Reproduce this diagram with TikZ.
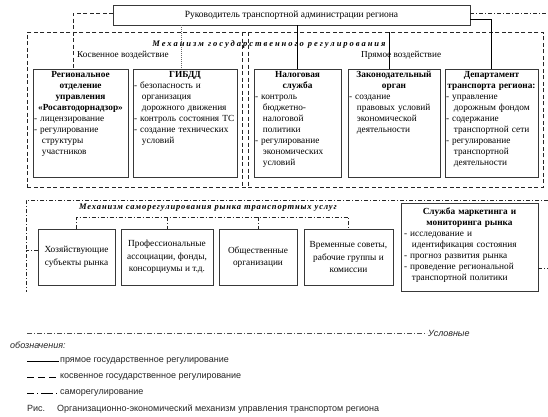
\documentclass[tikz,border=0pt]{standalone}
\usepackage{fontspec}
\setmainfont{Liberation Serif}
\newfontfamily\sansf{Liberation Sans}
\usetikzlibrary{calc}
\setlength\parindent{0pt}
\newcommand\itm{\par\hangindent=0.85em\hangafter=1 -\ }
\tikzset{
  box/.style={draw=black!78, line width=0.8pt, fill=white, inner sep=0pt, outer sep=0pt},
  boxtxt/.style={anchor=north, inner sep=0pt, align=left, font=\fontsize{9.3}{11}\selectfont},
  ctxt/.style={align=center, inner sep=0pt, font=\fontsize{9.3}{12.5}\selectfont},
  govdash/.style={draw=black!85, line width=0.9pt, dash pattern=on 4pt off 2.5pt},
  dd/.style={draw=black!85, line width=0.8pt, dash pattern=on 4pt off 2pt on 1pt off 2pt},
  dotl/.style={draw=black!60, line width=0.5pt, dash pattern=on 1pt off 1pt},
  solidl/.style={draw=black, line width=0.8pt},
  legt/.style={anchor=base west, inner sep=0pt, font=\sansf\fontsize{9}{10}\selectfont, text=black!85},
  ttl/.style={inner sep=0pt, font=\fontsize{8.5}{10}\selectfont\bfseries\itshape},
  lbl/.style={anchor=west, inner sep=0pt, font=\fontsize{9.2}{10}\selectfont}
}
\begin{document}
\begin{tikzpicture}[x=1pt,y=-1pt]
\useasboundingbox (0,0) rectangle (548,416);
\fill[white] (0,0) rectangle (548,416);

% government mechanism frame
\node[govdash, anchor=north west, minimum width=516pt, minimum height=155pt, inner sep=0pt] (gov) at (27,32) {};
\coordinate (sepA) at (242,32);
\coordinate (sepB) at (248,32);
\draw[govdash] (sepA) -- (sepA |- gov.south);
\draw[govdash] (sepB) -- (sepB |- gov.south);

% top box
\node[box, anchor=north west, minimum width=357pt, minimum height=20pt] (top) at (113,5) {};
\node[ctxt, font=\fontsize{9.5}{12}\selectfont] (toptxt) at (top.center) {Руководитель транспортной администрации региона};

\node[ttl] (govttl) at (269,44) {\addfontfeature{LetterSpace=23}Механизм государственного регулирования};
\node[lbl] (kos) at (77,55) {Косвенное воздействие};
\node[lbl] (pry) at (361,55) {Прямое воздействие};

% row 1 boxes
\node[box, anchor=north west, minimum width=95pt, minimum height=108pt] (reg) at (33,69) {};
\node[box, anchor=north west, minimum width=104pt, minimum height=108pt] (gib) at (133,69) {};
\node[box, anchor=north west, minimum width=87pt, minimum height=108pt] (nal) at (254,69) {};
\node[box, anchor=north west, minimum width=92pt, minimum height=108pt] (zak) at (348,69) {};
\node[box, anchor=north west, minimum width=93pt, minimum height=108pt] (dep) at (445,69) {};

\node[boxtxt, text width=93pt] (regt) at ([yshift=-2pt]reg.north) {{\centering\bfseries Региональное\\отделение\\управления\\«Росавтодорнадзор»\par}\itm лицензирование\itm регулирование\newline структуры\newline участников\par};
\node[boxtxt, text width=102pt] (gibt) at ([yshift=-2pt]gib.north) {{\centering\bfseries ГИБДД\par}\itm безопасность и\newline организация\newline дорожного движения\itm контроль состояния ТС\itm создание технических\newline условий\par};
\node[boxtxt, text width=85pt] (nalt) at ([yshift=-2pt]nal.north) {{\centering\bfseries Налоговая\\служба\par}\itm контроль\newline бюджетно-\newline налоговой\newline политики\itm регулирование\newline экономических\newline условий\par};
\node[boxtxt, text width=90pt] (zakt) at ([yshift=-2pt]zak.north) {{\centering\bfseries Законодательный\\орган\par}\itm создание\newline правовых условий\newline экономической\newline деятельности\par};
\node[boxtxt, text width=91pt] (dept) at ([yshift=-2pt]dep.north) {{\centering\bfseries Департамент\\транспорта региона:\par}\itm управление\newline дорожным фондом\itm содержание\newline транспортной сети\itm регулирование\newline транспортной\newline деятельности\par};

% connectors from the head
\draw[govdash] ([yshift=2pt]top.west) -| ([xshift=-7.5pt]reg.north);
\draw[dotl] ([xshift=-4pt]top.south -| gib.north) -- ([xshift=-4pt]gib.north);
\draw[solidl] (top.south -| nal.north) -- (nal.north);
\draw[solidl] ([xshift=-5pt]zak.north |- gov.north) -- ([xshift=-5pt]zak.north);
\draw[solidl] ([yshift=-4pt]top.east) -| (dep.north);
\coordinate (rtop) at (548,13);
\draw[dd] ([yshift=2pt]top.east) -- (rtop);

% self-regulation mechanism
\coordinate (srTR) at (548,200);
\coordinate (srTL) at (26,200);
\coordinate (srBL) at (26,292);
\draw[dd] (srTR) -- (srTL) -- (srBL);
\node[ttl, anchor=west] (srttl) at (79,208) {\addfontfeature{LetterSpace=10}Механизм саморегулирования рынка транспортных услуг};

\node[box, anchor=north west, minimum width=77pt, minimum height=56pt] (hoz) at (38,229) {};
\node[box, anchor=north west, minimum width=92pt, minimum height=56pt] (prof) at (121,229) {};
\node[box, anchor=north west, minimum width=78pt, minimum height=56pt] (obs) at (219,229) {};
\node[box, anchor=north west, minimum width=89pt, minimum height=56pt] (vre) at (304,229) {};
\node[box, anchor=north west, minimum width=137pt, minimum height=88pt] (mar) at (401,203) {};

\node[ctxt] (hozt) at (hoz.center) {Хозяйствующие\\субъекты рынка};
\node[ctxt] (proft) at (prof.center) {Профессиональные\\ассоциации, фонды,\\консорциумы и т.д.};
\node[ctxt] (obst) at (obs.center) {Общественные\\организации};
\node[ctxt] (vret) at (vre.center) {Временные советы,\\рабочие группы и\\комиссии};
\node[boxtxt, text width=131pt] (mart) at ([yshift=-5pt]mar.north) {{\centering\bfseries Служба маркетинга и\\мониторинга рынка\par}\itm исследование и\newline идентификация состояния\itm прогноз развития рынка\itm проведение региональной\newline транспортной политики\par};

\coordinate (bus) at (0,217);
\draw[dd] (hoz.north) -- (hoz.north |- bus) -- (vre.north |- bus) -- (vre.north);
\draw[dd] (prof.north |- bus) -- (prof.north);
\draw[dd] (obs.north |- bus) -- (obs.north);
\draw[dd] ([yshift=7pt]hoz.west) -- ([yshift=7pt]hoz.west -| srBL);
\coordinate (rmid) at (548,268);
\draw[dd] (mar.east |- rmid) -- (rmid);

% legend
\coordinate (lgA) at (27,333);
\coordinate (lgB) at (427,333);
\draw[draw=black!70, line width=0.6pt, dash pattern=on 5pt off 2pt on 1pt off 2pt] (lgA) -- (lgB);
\node[legt, font=\sansf\itshape\fontsize{9}{10}\selectfont] (usl) at (428,336) {Условные};
\node[legt, font=\sansf\itshape\fontsize{9}{10}\selectfont] (obz) at (10,348) {обозначения:};
\coordinate (l1a) at (27,361); \coordinate (l1b) at (59,361);
\draw[black, line width=0.8pt] (l1a) -- (l1b);
\node[legt] (l1t) at (60,362) {прямое государственное регулирование};
\coordinate (l2a) at (27,377); \coordinate (l2b) at (59,377);
\draw[black, line width=0.8pt, dash pattern=on 7pt off 4pt] (l2a) -- (l2b);
\node[legt] (l2t) at (60,378) {косвенное государственное регулирование};
\coordinate (l3a) at (27,393); \coordinate (l3b) at (59,393);
\draw[black, line width=0.8pt, dash pattern=on 7pt off 3pt on 1pt off 3pt on 12pt off 3pt on 1pt off 3pt on 1pt off 3pt] (l3a) -- (l3b);
\node[legt] (l3t) at (60,394) {саморегулирование};
\node[legt] (ris) at (27,411) {Рис.};
\node[legt] (cap) at (57,411) {Организационно-экономический механизм управления транспортом региона};
\end{tikzpicture}
\end{document}
